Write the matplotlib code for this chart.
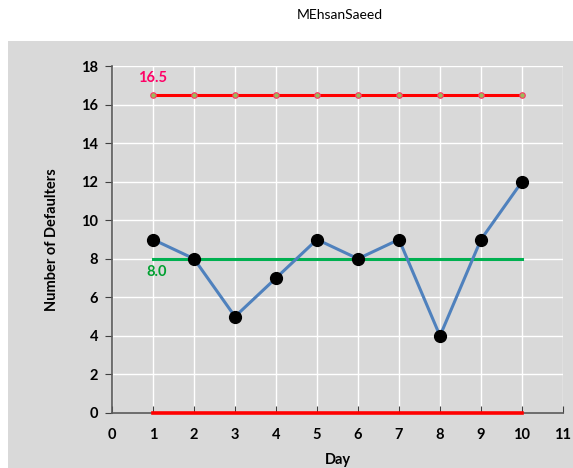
import matplotlib
matplotlib.use("Agg")
import matplotlib.pyplot as plt
from matplotlib.patches import Rectangle

plt.rcParams["font.family"] = ["Lato", "DejaVu Sans"]

days = [1, 2, 3, 4, 5, 6, 7, 8, 9, 10]
defaulters = [9, 8, 5, 7, 9, 8, 9, 4, 9, 12]
center = 8.0
ucl = 16.5
lcl = 0.0

fig = plt.figure(figsize=(5.73, 4.68), dpi=100)
fig.patch.set_facecolor("white")
# grey chart area below the title
fig.patches.append(Rectangle((8 / 573, 0), 1 - 8 / 573, 1 - 41 / 468,
                             transform=fig.transFigure, facecolor="#d9d9d9",
                             edgecolor="none", zorder=-10))

ax = fig.add_axes([112 / 573, 55 / 468, 451 / 573, 347 / 468])
ax.set_facecolor("#d9d9d9")

ax.plot(days, [ucl] * len(days), color="#ff0000", lw=2.2, marker="o", ms=4,
        markerfacecolor="#9bbb59", markeredgecolor="#ff3366", mew=0.8, zorder=3)
ax.plot(days, [center] * len(days), color="#00b050", lw=2.2, zorder=3)
ax.plot(days, [lcl] * len(days), color="#ff0000", lw=2.6, zorder=4, clip_on=False)
ax.plot(days, defaulters, color="#4f81bd", lw=2.2, marker="o", ms=8.5,
        markerfacecolor="black", markeredgecolor="black", zorder=5)

ax.text(1.0, ucl + 0.5, f"{ucl:.1f}", color="#ff0066", fontsize=10.5,
        fontweight="bold", ha="center", va="bottom")
ax.text(1.1, center - 0.3, f"{center:.1f}", color="#00a030", fontsize=10.5,
        fontweight="bold", ha="center", va="top")

ax.set_xlim(0, 11)
ax.set_ylim(0, 18)
ax.set_xticks(range(0, 12))
ax.set_yticks(range(0, 19, 2))
ax.grid(True, color="white", lw=1)
ax.set_axisbelow(True)
for side in ("top", "right"):
    ax.spines[side].set_visible(False)
for side in ("left", "bottom"):
    ax.spines[side].set_color("#595959")
    ax.spines[side].set_linewidth(1.2)
ax.tick_params(axis="y", direction="out", length=5, color="#404040",
               labelsize=10.5, pad=5)
ax.tick_params(axis="x", direction="in", length=5, color="#404040",
               labelsize=10.5, pad=11)
for lbl in ax.get_xticklabels() + ax.get_yticklabels():
    lbl.set_fontweight("bold")

ax.set_xlabel("Day", fontsize=10.5, fontweight="bold", labelpad=8)
ax.set_ylabel("Number of Defaulters", fontsize=10.5, fontweight="bold", labelpad=16)

fig.text(340 / 573, 1 - 15 / 468, "MEhsanSaeed", fontsize=10, ha="center", va="center")

fig.savefig("out.png", dpi=100)
